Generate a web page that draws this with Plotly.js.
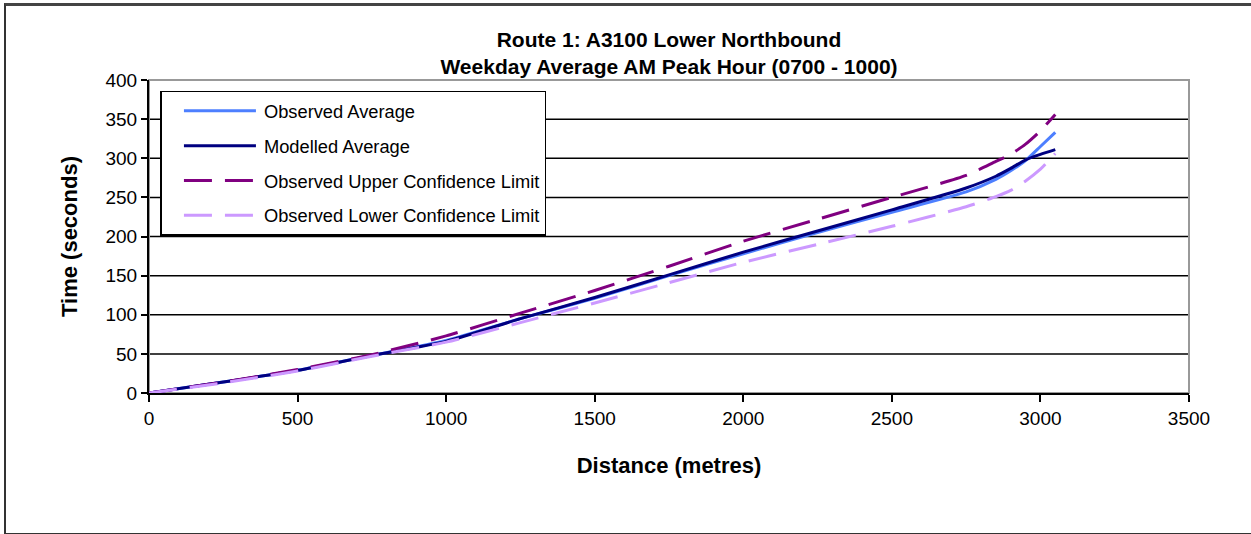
<!DOCTYPE html>
<html>
<head>
<meta charset="utf-8">
<script src="https://cdn.plot.ly/plotly-3.0.1.min.js"></script>
<style>
  html, body { margin: 0; padding: 0; background: #fff; }
  #wrap { position: relative; width: 1251px; height: 534px; }
  #chart { position: absolute; left: 0; top: 0; width: 1251px; height: 534px; }
  #frame { position: absolute; left: 4px; top: 3px; width: 1247px; height: 527px;
           border-top: 3px solid #444; border-left: 2px solid #333; border-bottom: 2px solid #333;
           box-sizing: content-box; pointer-events: none; }
</style>
</head>
<body>
<div id="wrap">
  <div id="chart"></div>
  <div id="frame"></div>
</div>
<script>
// Distance (metres)
const distance = [0, 250, 500, 750, 1000, 1250, 1500, 1750, 2000, 2250, 2500, 2750, 2850, 2900, 2950, 3000, 3050];
// Time (seconds)
const observedAverage = [0, 14, 29, 48, 67, 95, 121, 150, 178, 205, 231, 257, 273, 284, 297, 315, 333];
const modelledAverage = [0, 14, 29, 48, 66, 95, 122, 151, 180, 207, 234, 262, 277, 287, 298, 305, 311];
const upperLimit      = [0, 14, 30, 49, 73, 102, 131, 162, 194, 222, 250, 278, 296, 305, 318, 335, 356];
const lowerLimit      = [0, 13, 28, 47, 65, 90, 115, 141, 167, 190, 213, 238, 251, 259, 271, 286, 306];

const seriesNames = ["Observed Average", "Modelled Average", "Observed Upper Confidence Limit", "Observed Lower Confidence Limit"];
const titleLines = ["Route 1: A3100 Lower Northbound", "Weekday Average AM Peak Hour (0700 - 1000)"];
const xTitle = "Distance (metres)";
const yTitle = "Time (seconds)";

const font = "Liberation Sans, Arial, sans-serif";

function mk(y, name, color, dash, grp) {
  return {
    x: distance, y: y, name: name, type: "scatter", mode: "lines",
    legendgroup: grp,
    line: { color: color, width: 3, dash: dash, shape: "spline", smoothing: 0.6 }
  };
}

const traces = [
  mk(observedAverage, seriesNames[0], "#4d7fff", "solid", "a"),
  mk(modelledAverage, seriesNames[1], "#000080", "solid", "b"),
  mk(upperLimit, seriesNames[2], "#800080", "28px,13px", "c"),
  mk(lowerLimit, seriesNames[3], "#cc99ff", "28px,13px", "d")
];

const gridVals = [50, 100, 150, 200, 250, 300, 350];
const shapes = gridVals.map(v => ({
  type: "line", xref: "paper", yref: "y", x0: 0, x1: 1, y0: v, y1: v,
  line: { color: "#000", width: 1.5 }, layer: "below"
}));
shapes.push({ type: "rect", xref: "paper", yref: "paper", x0: 0, x1: 1, y0: 0, y1: 1,
  line: { color: "#999", width: 2 }, layer: "below" });

const layout = {
  width: 1251, height: 534,
  margin: { l: 149, r: 62, t: 80, b: 141 },
  paper_bgcolor: "rgba(0,0,0,0)", plot_bgcolor: "#fff",
  font: { family: font, color: "#000", size: 18 },
  title: {
    text: "<b>" + titleLines[0] + "</b><br><b>" + titleLines[1] + "</b>",
    font: { family: font, size: 21, color: "#000" },
    x: 0.5, xanchor: "center", xref: "paper", y: 0.9125, yanchor: "top"
  },
  xaxis: {
    range: [0, 3500], dtick: 500, tick0: 0,
    showgrid: false, zeroline: false,
    showline: true, linecolor: "#000", linewidth: 2,
    ticks: "outside", ticklen: 7, tickcolor: "#000", tickwidth: 2,
    tickfont: { family: font, size: 19, color: "#000" },
    title: { text: "<b>" + xTitle + "</b>", font: { family: font, size: 22 }, standoff: 30 }
  },
  yaxis: {
    range: [0, 400], dtick: 50, tick0: 0,
    showgrid: false, zeroline: false,
    showline: true, linecolor: "#000", linewidth: 2,
    ticks: "outside", ticklen: 6, tickcolor: "#000", tickwidth: 2,
    tickfont: { family: font, size: 19, color: "#000" },
    title: { text: "<b>" + yTitle + "</b>", font: { family: font, size: 22 }, standoff: 22 }
  },
  shapes: shapes,
  showlegend: true,
  legend: {
    x: 0.011, y: 0.965, xanchor: "left", yanchor: "top",
    bgcolor: "#fff", bordercolor: "#000", borderwidth: 1.5,
    font: { family: font, size: 18.3, color: "#000" },
    traceorder: "grouped", tracegroupgap: 8, itemwidth: 92
  }
};

Plotly.newPlot("chart", traces, layout, { staticPlot: true, displayModeBar: false }).then(gd => {
  // widen the legend line samples to match the reference's long samples
  gd.querySelectorAll(".legend .legendlines path").forEach(p => p.setAttribute("d", "M22,0h72"));
});
</script>
</body>
</html>
